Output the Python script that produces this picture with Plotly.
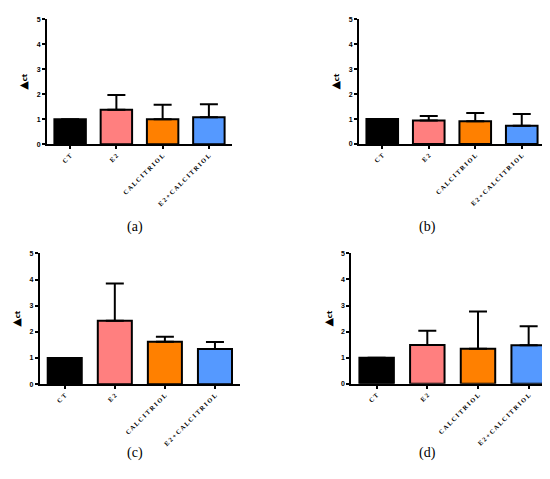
import plotly.graph_objects as go

# groups and values
groups = ["CT", "E2", "CALCITRIOL", "E2+CALCITRIOL"]
colors = ["#000000", "#FF7F7F", "#FF8000", "#5599FF"]

mean_a = [1.0, 1.38, 1.0, 1.08]
err_a = [0.0, 0.59, 0.58, 0.52]
mean_b = [1.0, 0.94, 0.91, 0.73]
err_b = [0.0, 0.18, 0.33, 0.47]
mean_c = [1.0, 2.43, 1.62, 1.35]
err_c = [0.0, 1.42, 0.19, 0.26]
mean_d = [1.0, 1.49, 1.34, 1.48]
err_d = [0.0, 0.54, 1.43, 0.73]

panels = ["(a)", "(b)", "(c)", "(d)"]
y_ticks = [0, 1, 2, 3, 4, 5]

W, H = 550, 479


def px_x(p):
    return p / W


def px_y(p):
    return 1 - p / H


def spaced(s):
    # the original labels are letter-spaced
    return " ".join(s)


# domains in pixels (left, right, top, bottom)
boxes = [
    (39, 224, 7.3, 134.3),
    (351, 537, 7.3, 134.0),
    (31.7, 232, 245, 377.7),
    (343.3, 546, 245, 377.3),
]
caption_pos = [(117, 218), (430, 218), (117, 458), (430, 458)]

fig = go.Figure()
series = [(mean_a, err_a), (mean_b, err_b), (mean_c, err_c), (mean_d, err_d)]

for i, (means, errs) in enumerate(series):
    n = "" if i == 0 else str(i + 1)
    fig.add_trace(go.Bar(
        x=groups, y=means,
        marker=dict(color=colors, line=dict(color="black", width=2)),
        width=0.68,
        error_y=dict(type="data", symmetric=False, array=errs,
                     arrayminus=[0] * len(errs), color="black",
                     thickness=2, width=9),
        xaxis="x" + n, yaxis="y" + n,
        showlegend=False,
    ))
    l, r, t, b = boxes[i]
    fig.layout["xaxis" + n] = dict(
        domain=[px_x(l), px_x(r)], anchor="y" + n,
        range=[-0.5, 3.5], showgrid=False, zeroline=False,
        showline=True, linecolor="black", linewidth=2,
        ticks="outside", ticklen=3, tickwidth=1.5, tickcolor="black",
        tickangle=-45, tickmode="array", tickvals=groups,
        ticktext=[spaced(g) for g in groups],
        tickfont=dict(family="Liberation Serif", size=6.5, color="black",
                      weight="bold"),
    )
    fig.layout["yaxis" + n] = dict(
        domain=[px_y(b), px_y(t)], anchor="x" + n,
        range=[0, 5], showgrid=False, zeroline=False,
        showline=True, linecolor="black", linewidth=2,
        ticks="outside", ticklen=3, tickwidth=1.5, tickcolor="black",
        tickvals=y_ticks,
        tickfont=dict(family="Liberation Sans", size=7, color="black",
                      weight="bold"),
        title=dict(text="<span style='font-size:11px'>▲</span>ct", standoff=8,
                   font=dict(family="DejaVu Sans", size=7, color="black",
                             weight="bold")),
    )
    cx, cy = caption_pos[i]
    fig.add_annotation(x=px_x(cx), y=px_y(cy), xref="paper", yref="paper",
                       text=panels[i], showarrow=False,
                       font=dict(family="Liberation Serif", size=14, color="black"))

fig.update_layout(
    width=W, height=H,
    margin=dict(l=0, r=0, t=0, b=0),
    paper_bgcolor="white", plot_bgcolor="white",
    bargap=0.3,
)

fig.write_html("out.html")
